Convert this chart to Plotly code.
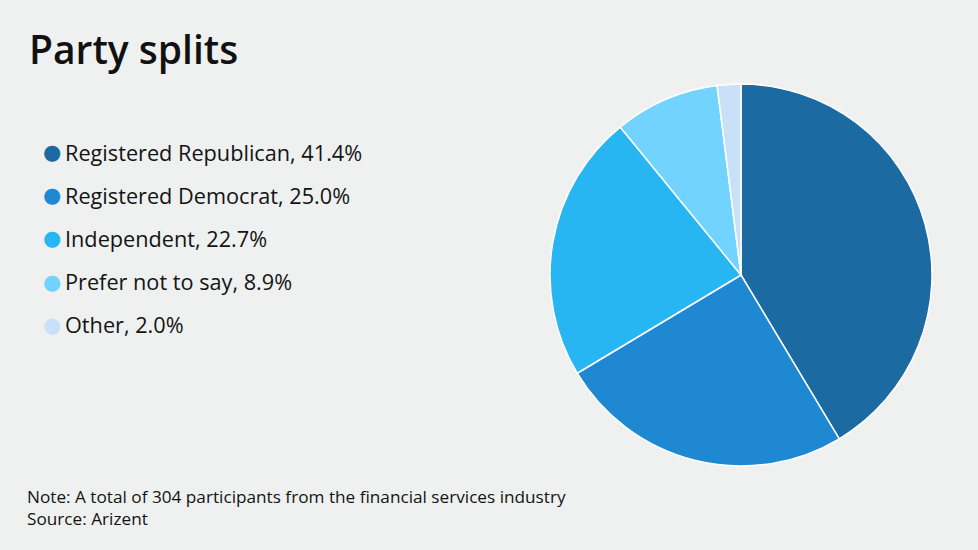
import plotly.graph_objects as go

categories = ["Registered Republican", "Registered Democrat", "Independent", "Prefer not to say", "Other"]
values = [41.4, 25.0, 22.7, 8.9, 2.0]
colors = ["#1b6aa1", "#1e88d2", "#27b6f2", "#72d4fe", "#c9e1f8"]

W, H = 978, 550
bg = "#eff1f0"
font_family = "'Open Sans', Lato, sans-serif"

cx, cy, r = 741, 275, 191

fig = go.Figure()
fig.add_trace(go.Pie(
    labels=categories,
    values=values,
    marker=dict(colors=colors, line=dict(color="white", width=1.5)),
    sort=False,
    direction="clockwise",
    rotation=0,
    textinfo="none",
    hoverinfo="label+percent",
    showlegend=False,
    domain=dict(x=[(cx - r) / W, (cx + r) / W], y=[1 - (cy + r) / H, 1 - (cy - r) / H]),
))

annotations = [
    dict(text="Party splits", x=27 / W, y=1 - 48 / H, xref="paper", yref="paper",
         xanchor="left", yanchor="middle", showarrow=False,
         font=dict(size=39, color="#111111", family=font_family, weight=600)),
]
y0, dy = 152, 43.2
for i, (c, v, col) in enumerate(zip(categories, values, colors)):
    yy = 1 - (y0 + i * dy) / H
    annotations.append(dict(text="●", x=52 / W, y=yy, xref="paper", yref="paper",
                            xanchor="center", yanchor="middle", showarrow=False,
                            font=dict(size=21, color=col, family="DejaVu Sans")))
    annotations.append(dict(text=f"{c}, {v:.1f}%", x=63 / W, y=yy, xref="paper", yref="paper",
                            xanchor="left", yanchor="middle", showarrow=False,
                            font=dict(size=21.7, color="#141414", family=font_family)))

annotations.append(dict(text="Note: A total of 304 participants from the financial services industry<br>Source: Arizent",
                        x=25 / W, y=1 - 507 / H, xref="paper", yref="paper",
                        xanchor="left", yanchor="middle", align="left", showarrow=False,
                        font=dict(size=17.2, color="#141414", family=font_family)))

fig.update_layout(
    width=W, height=H,
    margin=dict(l=0, r=0, t=0, b=0),
    paper_bgcolor=bg, plot_bgcolor=bg,
    annotations=annotations,
)

fig.write_html("out.html", config={"displayModeBar": False},
               post_script="document.body.style.margin='0';document.body.style.background='%s';" % bg)
